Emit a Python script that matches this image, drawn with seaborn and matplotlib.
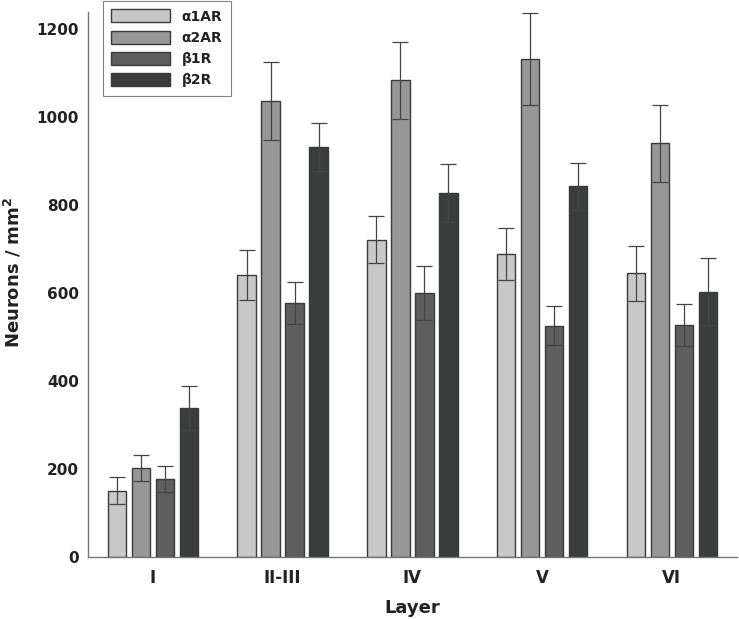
import numpy as np
import pandas as pd
import matplotlib
matplotlib.use("Agg")
import matplotlib.pyplot as plt
import seaborn as sns

# data
layers = ["I", "II-III", "IV", "V", "VI"]
receptors = ["α1AR", "α2AR", "β1R", "β2R"]
a1_mean = [151, 641, 722, 689, 645]
a2_mean = [203, 1037, 1084, 1133, 941]
b1_mean = [178, 578, 600, 526, 528]
b2_mean = [339, 933, 827, 843, 603]
a1_err = [30, 57, 54, 60, 62]
a2_err = [29, 88, 88, 105, 88]
b1_err = [29, 48, 61, 44, 48]
b2_err = [49, 55, 66, 54, 76]
colors = ["#c8c8c8", "#979797", "#5e5e5e", "#3b3c3c"]

means = [a1_mean, a2_mean, b1_mean, b2_mean]
errs = [a1_err, a2_err, b1_err, b2_err]

rows = []
for r, m, e in zip(receptors, means, errs):
    for lay, v, s in zip(layers, m, e):
        rows.append({"layer": lay, "receptor": r, "density": v, "sem": s})
df = pd.DataFrame(rows)

sns.set_style("white")
plt.rcParams["font.family"] = ["DejaVu Sans"]
plt.rcParams["font.weight"] = "bold"

fig = plt.figure(figsize=(7.39, 6.19), dpi=100)
ax = fig.add_axes([0.119, 0.1, 0.878, 0.881])

sns.barplot(data=df, x="layer", y="density", hue="receptor", order=layers,
            hue_order=receptors, palette=colors, errorbar=None,
            width=0.74, gap=0.23, edgecolor="#3a3a3a", linewidth=1.0,
            saturation=1, ax=ax)

# error bars on top of each bar
for cont, e in zip(ax.containers, errs):
    xs = [p.get_x() + p.get_width() / 2 for p in cont.patches]
    ys = [p.get_height() for p in cont.patches]
    ax.errorbar(xs, ys, yerr=e, fmt="none", ecolor="#444444",
                elinewidth=0.9, capsize=5.5, capthick=0.9, zorder=5)

ax.set_xlim(-0.5, 4.5)
ax.set_ylim(0, 1240)
ax.set_yticks(range(0, 1201, 200))
ax.tick_params(axis="both", direction="in", colors="#555555", labelcolor="#222222")
ax.tick_params(axis="y", length=5, width=0.8, labelsize=11, pad=6.5)
ax.tick_params(axis="x", length=3, width=0.8, labelsize=12, pad=8.5)
for lab in ax.get_xticklabels() + ax.get_yticklabels():
    lab.set_fontweight("bold")

ax.set_xlabel("Layer", fontsize=13, fontweight="bold", color="#222222", labelpad=9)
ax.set_ylabel("Neurons / mm$^\\mathbf{2}$", fontsize=13, fontweight="bold", color="#222222")
ax.yaxis.set_label_coords(-0.099, 0.523)

sns.despine(ax=ax)
for s in ["left", "bottom"]:
    ax.spines[s].set_color("#777777")
    ax.spines[s].set_linewidth(1.0)

leg = ax.legend(loc="upper left", bbox_to_anchor=(103 / 739, 1 - 1 / 619),
                bbox_transform=fig.transFigure, frameon=True, fancybox=False,
                handlelength=4.25, handleheight=1.08, handletextpad=0.8,
                labelspacing=0.5, borderpad=0.6, borderaxespad=0,
                prop={"weight": "bold", "size": 10})
leg.get_frame().set_edgecolor("#666666")
leg.get_frame().set_linewidth(0.8)
for t in leg.get_texts():
    t.set_color("#222222")

fig.savefig("out.png", dpi=100)
